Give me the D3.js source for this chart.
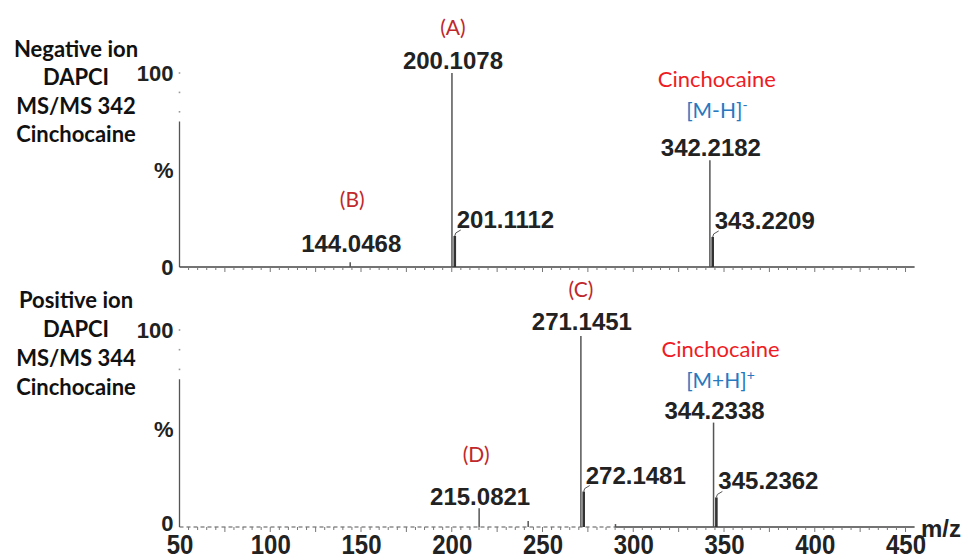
<!DOCTYPE html>
<html>
<head>
<meta charset="utf-8">
<script src="https://cdn.jsdelivr.net/npm/d3@7"></script>
<style>
  html, body { margin: 0; padding: 0; background: #fff; }
  svg { display: block; }
  .num { font-family: "Liberation Sans", Arial, sans-serif; font-weight: bold; fill: #222; }
  .cal { font-family: Lato, "Open Sans", sans-serif; }
</style>
</head>
<body>
<svg id="chart" width="968" height="560"></svg>
<script>
// m/z axis
const mzDomain = [50, 455];
const mzTicks = [50, 100, 150, 200, 250, 300, 350, 400, 450];
const yTickLabels = ["100", "%", "0"];

// Negative ion DAPCI MS/MS of m/z 342 (relative intensity, %)
const negMz = [144.0468, 200.1078, 201.1112, 342.2182, 343.2209];
const negInt = [2.5, 100, 16, 55, 15.5];

// Positive ion DAPCI MS/MS of m/z 344 (relative intensity, %)
const posMz = [215.0821, 242.1, 271.1451, 272.1481, 290.2, 344.2338, 345.2362];
const posInt = [9.5, 3, 97, 18, 1.5, 53, 15];
const posLabelled = [true, false, true, true, false, true, true];

// Panel titles and fragment annotations
const negTitle = ["Negative ion", "DAPCI", "MS/MS 342", "Cinchocaine"];
const posTitle = ["Positive ion", "DAPCI", "MS/MS 344", "Cinchocaine"];
const negNotes = [{ mz: 200.1078, text: "(A)" }, { mz: 144.0468, text: "(B)" }];
const posNotes = [{ mz: 271.1451, text: "(C)" }, { mz: 215.0821, text: "(D)" }];

const svg = d3.select("#chart");
svg.append("rect").attr("width", 968).attr("height", 560).attr("fill", "#fff");

const x = d3.scaleLinear().domain(mzDomain).range([179.5, 914.6]);
const fmt = d3.format(".4f");

// label placement: "top" = centred above the peak, "side" = beside the peak with a short leader
const placement = {
  144.0468: { mode: "top", dy: -10 },
  200.1078: { mode: "top", dy: -4 },
  201.1112: { mode: "side" },
  342.2182: { mode: "top", dy: -4 },
  343.2209: { mode: "side" },
  215.0821: { mode: "top", dy: -3 },
  271.1451: { mode: "top", dy: -6 },
  272.1481: { mode: "side" },
  344.2338: { mode: "top", dy: -4 },
  345.2362: { mode: "side" }
};

function panel(cfg) {
  const g = svg.append("g");
  const y = d3.scaleLinear().domain([0, 100]).range([cfg.y0, cfg.y100]);

  // title block on the left
  const t = g.append("text").attr("class", "cal")
    .attr("font-weight", "bold").attr("font-size", 22).attr("fill", "#111")
    .attr("text-anchor", "middle");
  cfg.title.forEach((s, i) => {
    t.append("tspan").attr("x", 76).attr("y", cfg.titleY + i * cfg.titleStep).text(s);
  });

  // y axis: solid up to 75 %, dotted marks above
  g.append("line").attr("x1", x(50)).attr("x2", x(50))
    .attr("y1", y(0)).attr("y2", y(75)).attr("stroke", "#555").attr("stroke-width", 1.3);
  [80, 90, 100].forEach(v => {
    g.append("rect").attr("x", x(50) - 0.8).attr("y", y(v) - 0.8)
      .attr("width", 1.6).attr("height", 1.6).attr("fill", "#999");
  });
  const yl = [[100, yTickLabels[0], 8], [50, yTickLabels[1], 8], [0, yTickLabels[2], cfg.zeroDy]];
  yl.forEach(([v, s, dy]) => {
    g.append("text").attr("class", "num")
      .attr("x", x(50) - 6).attr("y", y(v) + dy)
      .attr("text-anchor", "end").attr("font-size", 22).text(s);
  });

  // x axis line with minor ticks
  const axisG = g.append("g").attr("transform", `translate(0,${cfg.y0})`);
  if (cfg.dashedTo) {
    axisG.append("line").attr("x1", x(50)).attr("x2", x(cfg.dashedTo))
      .attr("stroke", "#555").attr("stroke-width", 1.2).attr("stroke-dasharray", "4,3");
    axisG.append("line").attr("x1", x(cfg.dashedTo)).attr("x2", x(mzDomain[1]))
      .attr("stroke", "#444").attr("stroke-width", 1.4);
  } else {
    axisG.append("line").attr("x1", x(50)).attr("x2", x(mzDomain[1]))
      .attr("stroke", "#444").attr("stroke-width", 1.4);
  }
  const minor = d3.range(55, 455, 5);
  axisG.selectAll("line.tk").data(minor).join("line").attr("class", "tk")
    .attr("x1", d => x(d)).attr("x2", d => x(d))
    .attr("y1", 0).attr("y2", d => d % 25 === 0 ? 5 : 3)
    .attr("stroke", "#777").attr("stroke-width", 1);

  if (cfg.showTicks) {
    const ax = d3.axisBottom(x).tickValues(mzTicks).tickSize(0).tickPadding(0);
    const a = g.append("g").attr("transform", `translate(0,${cfg.y0})`).call(ax);
    a.select(".domain").remove();
    a.selectAll("text").attr("class", "num").attr("font-size", 24)
      .attr("transform", "translate(0,27) scale(1,1.15)").attr("dy", 0).attr("y", 0);
    g.append("text").attr("class", "num").attr("x", 921).attr("y", cfg.y0 + 10)
      .attr("font-size", 24).text("m/z");
  }

  // peaks
  const peaks = cfg.mz.map((m, i) => ({ mz: m, v: cfg.int[i], lab: cfg.labelled ? cfg.labelled[i] : true }));
  peaks.forEach(p => {
    const side = placement[p.mz] && placement[p.mz].mode === "side";
    g.append("line").attr("x1", x(p.mz) + (side ? 1 : 0)).attr("x2", x(p.mz) + (side ? 1 : 0))
      .attr("y1", y(0)).attr("y2", y(p.v))
      .attr("stroke", side ? "#333" : "#555").attr("stroke-width", side ? 2.6 : 1.5);
  });
  peaks.filter(p => p.lab).forEach(p => {
    const pl = placement[p.mz];
    const px = x(p.mz), py = y(p.v);
    if (pl.mode === "top") {
      g.append("text").attr("class", "num").attr("font-size", 24)
        .attr("text-anchor", "middle").attr("x", px + 1).attr("y", py + pl.dy)
        .text(fmt(p.mz));
    } else {
      g.append("path").attr("d", `M${px + 1},${py} L${px + 2},${py - 3} L${px + 7},${py - 6}`)
        .attr("fill", "none").attr("stroke", "#555").attr("stroke-width", 1);
      g.append("text").attr("class", "num").attr("font-size", 24)
        .attr("x", px + 3).attr("y", py - 8).text(fmt(p.mz));
    }
  });

  // fragment annotations
  cfg.notes.forEach(n => {
    g.append("text").attr("class", "cal").attr("font-size", 21).attr("fill", "#c0282b")
      .attr("text-anchor", "middle").attr("x", x(n.mz) + n.dx).attr("y", n.y).text(n.text);
  });

  // precursor annotation
  const pr = cfg.precursor;
  g.append("text").attr("class", "cal").attr("font-size", 22).attr("fill", "#ee1c24")
    .attr("text-anchor", "middle").attr("x", x(pr.mz) + 7).attr("y", pr.y).text("Cinchocaine");
  const ion = g.append("text").attr("class", "cal").attr("font-size", 21).attr("fill", "#2878c0")
    .attr("text-anchor", "middle").attr("x", x(pr.mz) + 7).attr("y", pr.y + 31);
  ion.append("tspan").text(pr.ion);
  ion.append("tspan").attr("font-size", 14).attr("dy", -8).text(pr.charge);
}

panel({
  title: negTitle, titleY: 57, titleStep: 28.3,
  y0: 267, y100: 73, zeroDy: 8,
  mz: negMz, int: negInt,
  notes: [
    { mz: negNotes[0].mz, text: negNotes[0].text, dx: 1, y: 35 },
    { mz: negNotes[1].mz, text: negNotes[1].text, dx: 2, y: 207 }
  ],
  precursor: { mz: 342.2182, y: 87, ion: "[M-H]", charge: "-" },
  showTicks: false
});

panel({
  title: posTitle, titleY: 308, titleStep: 29,
  y0: 527, y100: 330, zeroDy: 4,
  mz: posMz, int: posInt, labelled: posLabelled,
  notes: [
    { mz: posNotes[0].mz, text: posNotes[0].text, dx: 0, y: 297 },
    { mz: posNotes[1].mz, text: posNotes[1].text, dx: -3, y: 462 }
  ],
  precursor: { mz: 344.2338, y: 357, ion: "[M+H]", charge: "+" },
  showTicks: true, dashedTo: 290
});
</script>
</body>
</html>
